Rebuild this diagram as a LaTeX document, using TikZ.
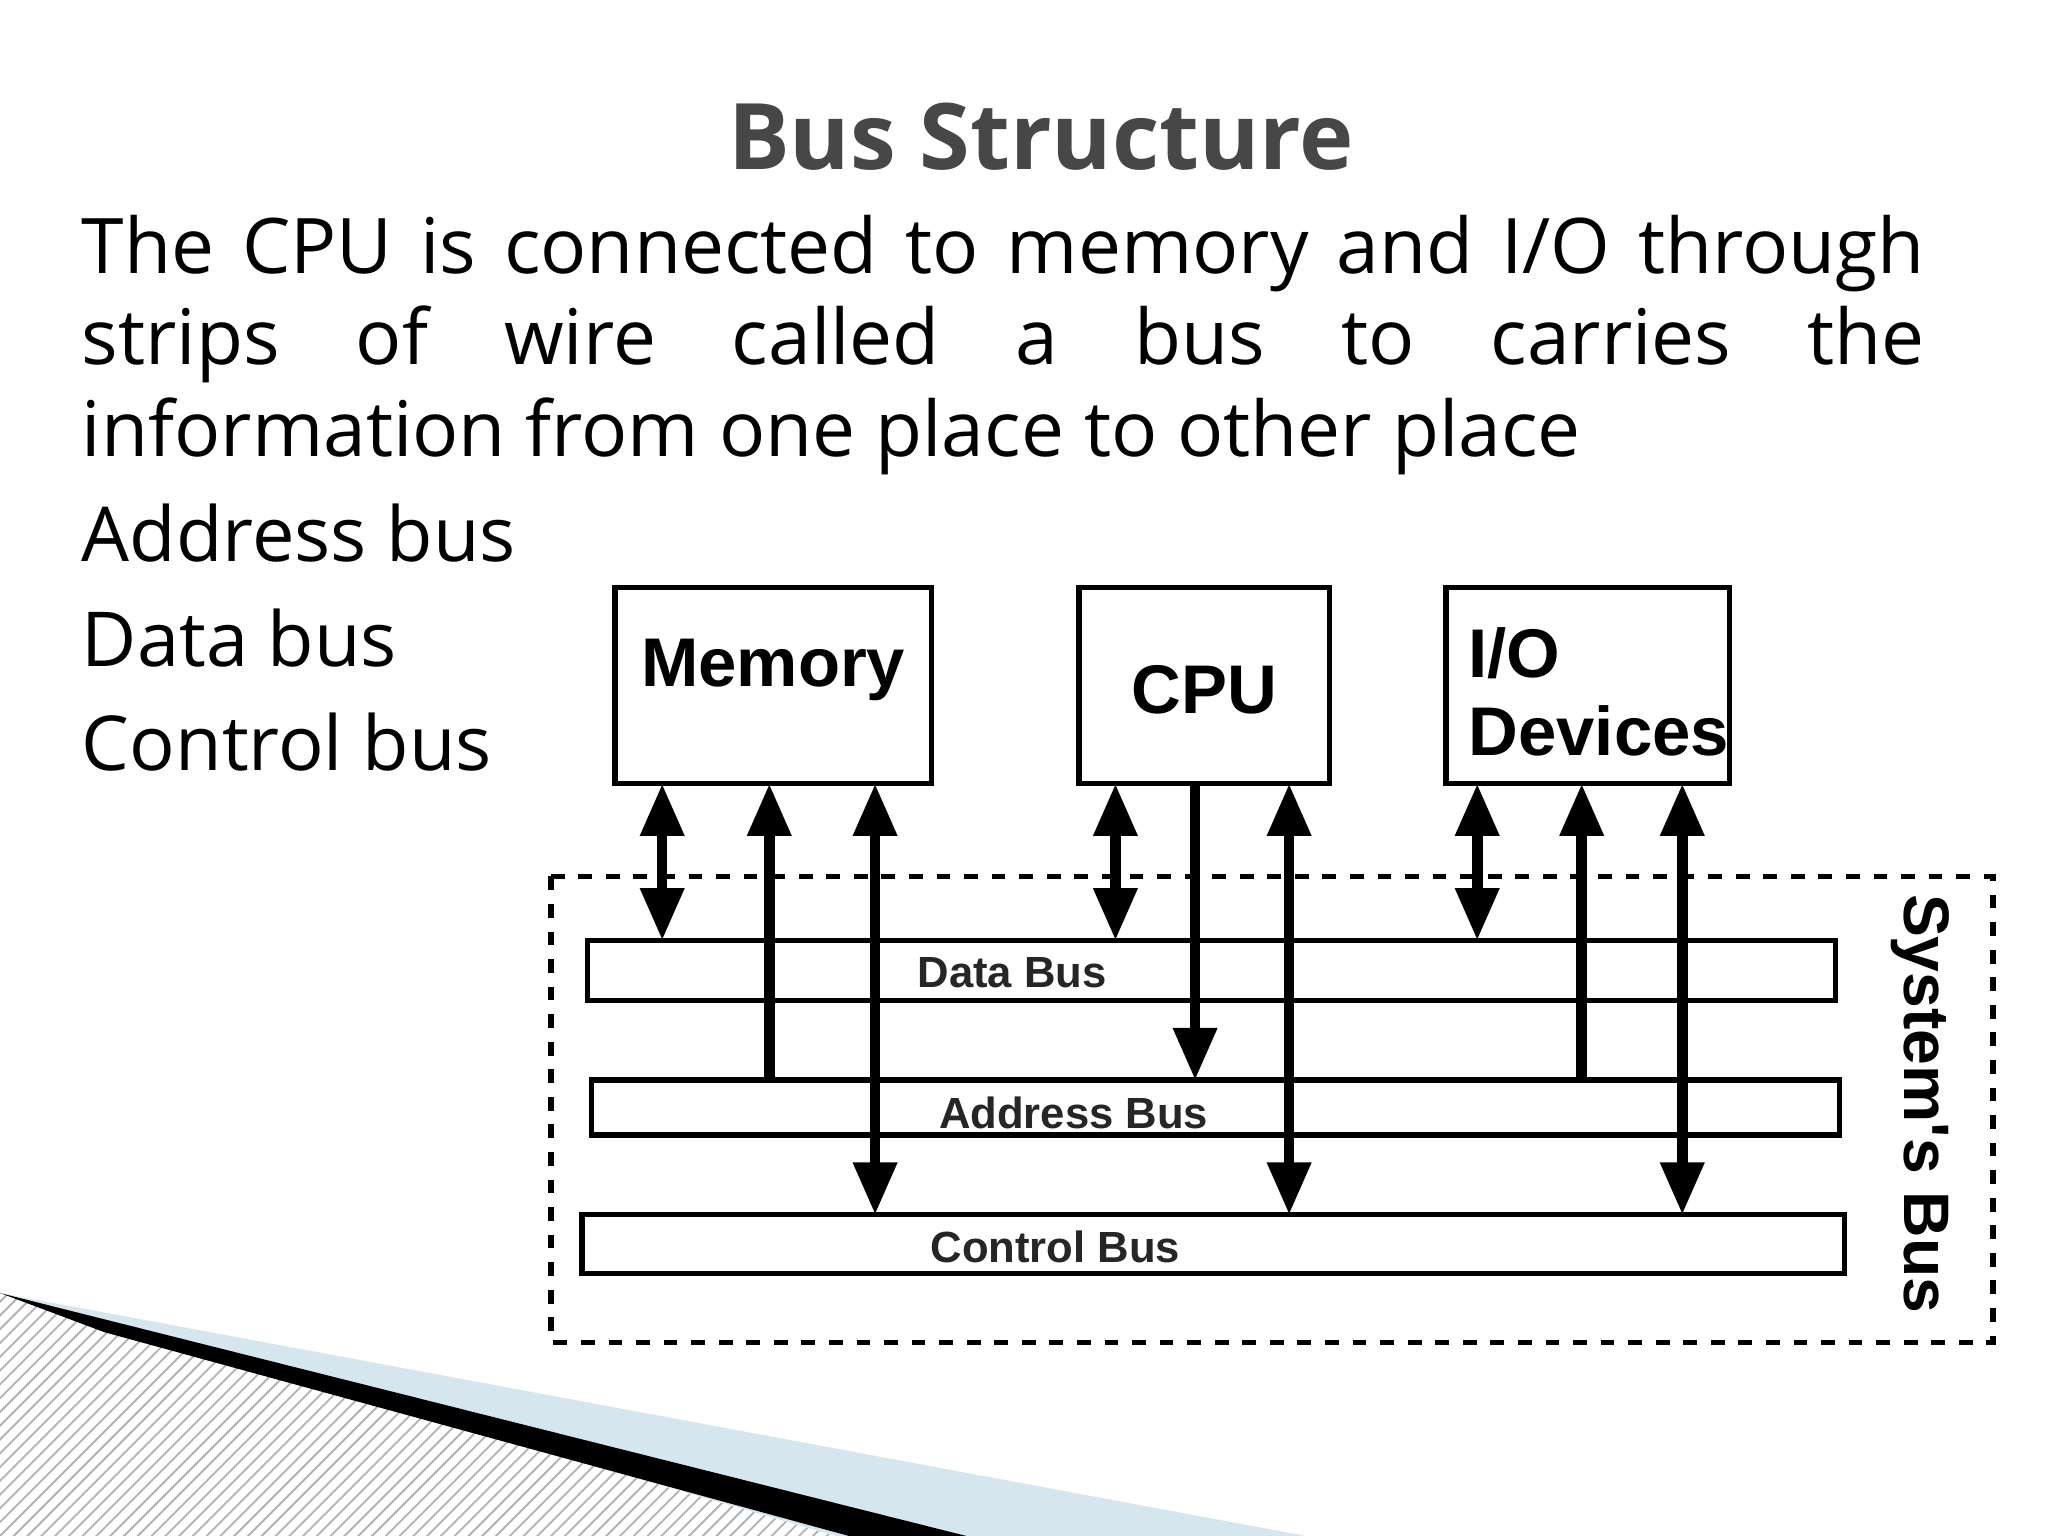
\documentclass[tikz,border=0pt]{standalone}
\usepackage{fontspec}
\setmainfont{Open Sans}
\newfontfamily\arialf{Liberation Sans}
\usetikzlibrary{arrows.meta,patterns}
\definecolor{lblue}{HTML}{D6E6EE}
\begin{document}
\begin{tikzpicture}[x=0.01cm,y=-0.01cm,
  box/.style={draw,line width=1.2pt,inner sep=0},
  lbl/.style={font=\arialf\bfseries\fontsize{15}{17}\selectfont},
  blbl/.style={font=\arialf\bfseries\fontsize{9.5}{10}\selectfont,text=black!85},
  bus/.style={line width=2.3pt},
  tip/.style={-{Triangle[width=0.32cm,length=0.4cm]}},
  dtip/.style={{Triangle[width=0.32cm,length=0.4cm]}-{Triangle[width=0.32cm,length=0.4cm]}}]
\useasboundingbox (0,0) rectangle (1568,1176);
% decoration
\fill[pattern=north east lines,pattern color=gray!60] (0,990) -- (0,1176) -- (640,1176) -- cycle;
\fill[lblue] (0,990) -- (1000,1176) -- (640,1176) -- cycle;
\fill[black] (0,990) -- (740,1176) -- (650,1176) -- (80,1020) -- cycle;
% title & text
\node[font=\bfseries\fontsize{20}{24}\selectfont,text=black!72] (title) at (797,105) {Bus Structure};
\node[anchor=north west,text width=14.1cm,align=justify,inner sep=0,font=\fontsize{16.7}{19.9}\selectfont] (para) at (62,164)
 {The CPU is connected to memory and I/O through\linebreak strips of wire called a bus to carries the\linebreak information from one place to other place};
\node[anchor=base west,inner sep=0,font=\fontsize{16.5}{19.9}\selectfont] (l1) at (62,430) {Address bus};
\node[anchor=base west,inner sep=0,font=\fontsize{16.5}{19.9}\selectfont] (l2) at (62,510) {Data bus};
\node[anchor=base west,inner sep=0,font=\fontsize{16.5}{19.9}\selectfont] (l3) at (62,590) {Control bus};
% boxes
\node[box,minimum width=2.42cm,minimum height=1.5cm] (mem) at (592,525) {};
\node[lbl] at (592,513) {Memory};
\node[box,minimum width=1.92cm,minimum height=1.5cm] (cpu) at (922,525) {};
\node[lbl] at (922,528) {CPU};
\node[box,minimum width=2.17cm,minimum height=1.5cm] (io) at (1215.5,525) {};
\node[lbl,anchor=west,align=left] at (1112,530) {I/O\\Devices};
\draw[dashed,line width=1.2pt] (422,671) rectangle (1526,1028);
\node[box,minimum width=9.55cm,minimum height=0.46cm] (db) at (927.5,743) {};
\node[blbl] at (775,745) {Data Bus};
\node[box,minimum width=9.55cm,minimum height=0.42cm] (ab) at (930.5,848) {};
\node[blbl] at (822,852) {Address Bus};
\node[box,minimum width=9.66cm,minimum height=0.45cm] (cb) at (929,952.5) {};
\node[blbl] at (808,955) {Control Bus};
\node[lbl,font=\arialf\bfseries\fontsize{14}{16}\selectfont,rotate=-90] (sb) at (1470,845) {System's Bus};
% arrows
\draw[bus,dtip] (507,600) -- (507,720);
\draw[bus,tip] (589,827) -- (589,600);
\draw[bus,dtip] (670,600) -- (670,930);
\draw[bus,dtip] (854,600) -- (854,720);
\draw[bus,tip] (915,600) -- (915,827);
\draw[bus,dtip] (987,600) -- (987,930);
\draw[bus,dtip] (1131,600) -- (1131,720);
\draw[bus,tip] (1211,827) -- (1211,600);
\draw[bus,dtip] (1288,600) -- (1288,930);
\end{tikzpicture}
\end{document}
